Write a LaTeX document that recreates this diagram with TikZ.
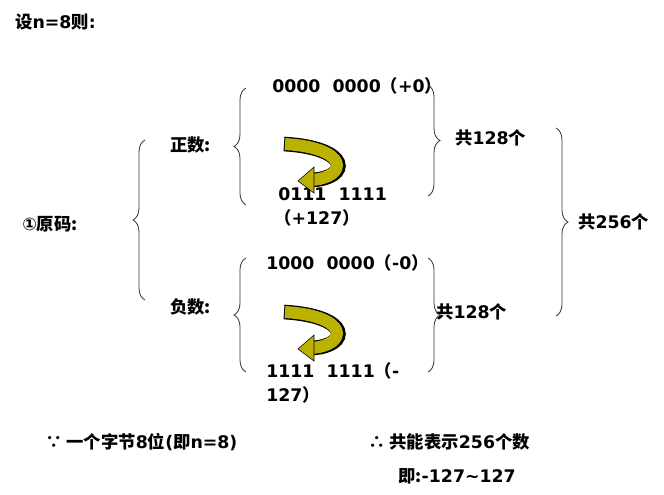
\documentclass[tikz,border=0pt]{standalone}
\usepackage{fontspec}
\setmainfont{DejaVu Sans}
\newfontfamily\cjk{Noto Sans CJK SC}
\usetikzlibrary{decorations.pathreplacing}
\begin{document}
\begin{tikzpicture}[x=0.75pt,y=-0.75pt]
\tikzstyle{txt} = [font=\bfseries\fontsize{13}{15}\selectfont, inner sep=0pt, anchor=west]
\tikzstyle{brace} = [decorate, decoration={brace, amplitude=9pt}, semithick, black!80]
\tikzstyle{turn} = [line width=9pt, draw=olive!60!yellow]
\useasboundingbox (0,0) rectangle (664,494);

\node (title) [txt] at (15,22) {{\cjk 设}n=8{\cjk 则}:};
\node (code) [txt] at (22,224) {①{\cjk 原码:}};
\node (pos) [txt] at (170,145) {{\cjk 正数:}};
\node (neg) [txt] at (170,307) {{\cjk 负数:}};
\node (pzero) [txt] at (272,86) {0000\ \ 0000{\cjk （}+0{\cjk ）}};
\node (pmax) [txt] at (278,194) {0111\ \ 1111};
\node (pmaxb) [txt] at (274,218) {{\cjk （}+127{\cjk ）}};
\node (nzero) [txt] at (266,263) {1000\ \ 0000{\cjk （}-0{\cjk ）}};
\node (nmax) [txt] at (266,371) {1111\ \ 1111{\cjk （}-};
\node (nmaxb) [txt] at (266,395) {127{\cjk ）}};
\node (cnta) [txt] at (455,138) {{\cjk 共}128{\cjk 个}};
\node (cntb) [txt] at (436,312) {{\cjk 共}128{\cjk 个}};
\node (total) [txt] at (578,222) {{\cjk 共}256{\cjk 个}};
\node (byte) [txt] at (45,442) {{\cjk ∵ 一个字节}8{\cjk 位}({\cjk 即}n=8)};
\node (range) [txt] at (368,442) {{\cjk ∴ 共能表示}256{\cjk 个数}};
\node (range2) [txt] at (398,476) {{\cjk 即:}-127\textasciitilde127};

% braces
\draw [brace] (145,300) -- (145,140);
\draw [brace] (246,205) -- (246,88);
\draw [brace] (246,372) -- (246,258);
\draw [brace] (428,85) -- (428,196);
\draw [brace] (428,258) -- (428,372);
\draw [brace] (556,128) -- (556,316);

% turning arrows
\foreach \y in {0,168} {
  \draw [line width=11pt, black] (284,\y+144) .. controls (352,\y+148) and (350,\y+178) .. (312,\y+180);
  \draw [turn] (285,\y+144) .. controls (350,\y+148) and (348,\y+177) .. (312,\y+180);
  \filldraw [fill=olive!60!yellow, draw=black] (314,\y+167) -- (298,\y+181) -- (314,\y+193) -- cycle;
}
\end{tikzpicture}
\end{document}
